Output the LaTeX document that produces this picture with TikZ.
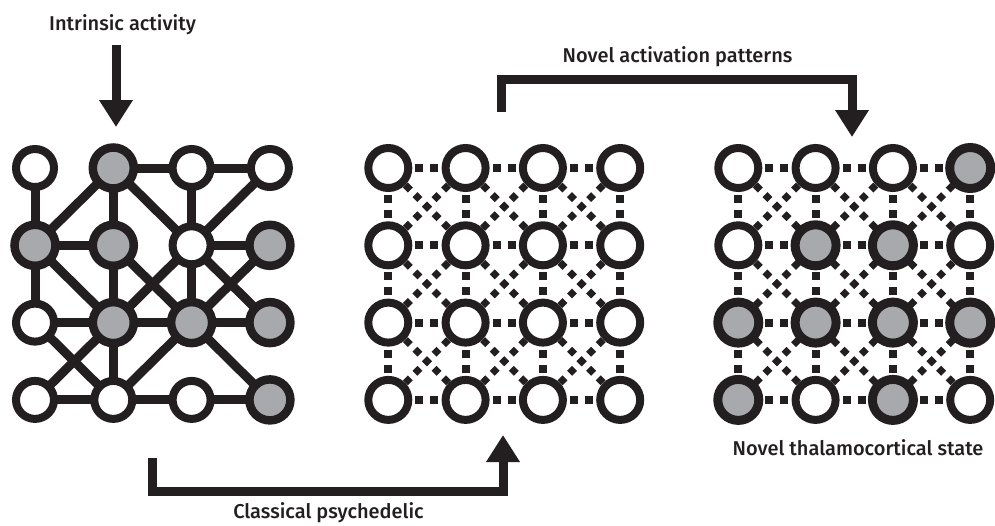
\documentclass[tikz,border=0pt]{standalone}
\usepackage{fontspec}
\IfFontExistsTF{Fira Sans Medium}{\setmainfont{Fira Sans Medium}}{\setmainfont{Fira Sans}}
\usetikzlibrary{arrows.meta,backgrounds}
\definecolor{ink}{RGB}{35,31,32}
\definecolor{fillgray}{RGB}{167,169,172}

\begin{document}
\begin{tikzpicture}[x=1pt,y=-1pt,
  solidwhite/.style={circle,draw=ink,fill=white,line width=8pt,minimum size=38pt,inner sep=0pt},
  solidgray/.style={circle,draw=ink,fill=fillgray,line width=8.5pt,minimum size=41pt,inner sep=0pt},
  ringwhite/.style={circle,draw=ink,fill=white,line width=8pt,minimum size=40pt,inner sep=0pt},
  ringgray/.style={circle,draw=ink,fill=fillgray,line width=9pt,minimum size=41pt,inner sep=0pt},
  link/.style={draw=ink,line width=9pt},
  straightdash/.style={draw=ink,line width=8pt,dash pattern=on 8pt off 7pt,dash phase=2.85pt},
  diagdash/.style={draw=ink,line width=7pt,dash pattern=on 7pt off 6.5pt,dash phase=2.84pt},
  bigarrow/.style={draw=ink,line width=9pt,line join=miter,-{Triangle[width=32pt,length=27pt]}},
  caption/.style={font=\fontsize{20}{24}\selectfont,text=ink,anchor=base,inner sep=0pt}
]
\useasboundingbox (0,0) rectangle (995,525);

% left network: solid links
\foreach \c/\r/\s in {1/1/solidwhite,2/1/solidgray,3/1/solidwhite,4/1/solidwhite,
                      1/2/solidgray,2/2/solidgray,3/2/solidwhite,4/2/solidgray,
                      1/3/solidwhite,2/3/solidgray,3/3/solidgray,4/3/solidgray,
                      1/4/solidwhite,2/4/solidwhite,3/4/solidwhite,4/4/solidgray}
  \node[\s] (L-\c-\r) at ({35+(\c-1)*78.3},{168+(\r-1)*77.3}) {};

% middle network: all dashed
\foreach \c in {1,...,4}
  \foreach \r in {1,...,4}
    \node[ringwhite] (M-\c-\r) at ({388.3+(\c-1)*77.3},{168+(\r-1)*77.3}) {};

% right network: dashed, new activation
\foreach \c/\r/\s in {1/1/ringwhite,2/1/ringwhite,3/1/ringwhite,4/1/ringgray,
                      1/2/ringwhite,2/2/ringgray,3/2/ringgray,4/2/ringwhite,
                      1/3/ringgray,2/3/ringgray,3/3/ringgray,4/3/ringgray,
                      1/4/ringgray,2/4/ringwhite,3/4/ringgray,4/4/ringwhite}
  \node[\s] (R-\c-\r) at ({738.3+(\c-1)*77.3},{168+(\r-1)*77.3}) {};

\begin{scope}[on background layer]
  \fill[white] (0,0) rectangle (995,525);
  \foreach \a/\b in {1-1/1-2,2-1/3-1,3-1/4-1,2-1/1-2,2-1/2-2,2-1/3-2,3-1/3-2,4-1/3-2,
                     1-2/2-2,3-2/4-2,1-2/1-3,1-2/2-3,2-2/2-3,2-2/3-3,3-2/2-3,3-2/3-3,
                     3-2/4-3,4-2/3-3,1-3/2-3,2-3/3-3,3-3/4-3,1-3/2-4,2-3/1-4,2-3/2-4,
                     3-3/2-4,3-3/4-4,1-4/2-4,2-4/3-4,3-4/4-4}
    \draw[link] (L-\a.center) -- (L-\b.center);
  \foreach \g in {M,R} {
    \foreach \r in {1,...,4}
      \foreach \c [count=\n from 2] in {1,2,3}
        \draw[straightdash] (\g-\c-\r.center) -- (\g-\n-\r.center);
    \foreach \c in {1,...,4}
      \foreach \r [count=\s from 2] in {1,2,3}
        \draw[straightdash] (\g-\c-\r.center) -- (\g-\c-\s.center);
    \foreach \c [count=\n from 2] in {1,2,3}
      \foreach \r [count=\s from 2] in {1,2,3} {
        \draw[diagdash] (\g-\c-\r.center) -- (\g-\n-\s.center);
        \draw[diagdash] (\g-\n-\r.center) -- (\g-\c-\s.center);
      }
  }
\end{scope}

% labels
\node[caption] (intr) at (122.5,30) {Intrinsic activity};
\node[caption] (nov) at (677.5,62.7) {Novel activation patterns};
\node[caption] (cls) at (328.5,518.3) {Classical psychedelic};
\node[caption] (thal) at (858,455) {Novel thalamocortical state};

% arrows
\coordinate (intrA) at (116,45);
\coordinate (intrB) at (116,127);
\draw[bigarrow] (intrA) -- (intrB);

\coordinate (novA) at (501.5,112);
\coordinate (novB) at (852,137);
\draw[bigarrow] (novA) -- ++(0,-33) -| (novB);

\coordinate (clsA) at (152.5,458);
\coordinate (clsB) at (503,435);
\draw[bigarrow] (clsA) -- ++(0,33) -| (clsB);
\end{tikzpicture}
\end{document}
